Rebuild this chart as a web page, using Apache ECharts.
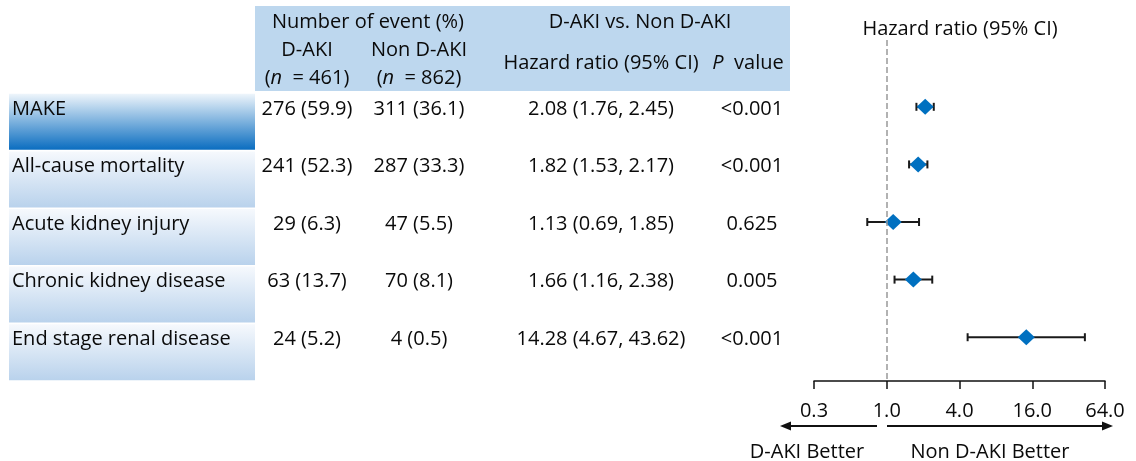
<!DOCTYPE html>
<html>
<head>
<meta charset="utf-8">
<script src="https://cdn.jsdelivr.net/npm/echarts@6/dist/echarts.min.js"></script>
<style>
  html, body { margin: 0; padding: 0; background: #fff; }
  #chart { width: 1136px; height: 461px; }
</style>
</head>
<body>
<div id="chart"></div>
<script>
// Outcomes of D-AKI vs. Non D-AKI patients
const outcomes = ['MAKE', 'All-cause mortality', 'Acute kidney injury', 'Chronic kidney disease', 'End stage renal disease'];
const dakiEvents = [276, 241, 29, 63, 24];
const dakiPct = [59.9, 52.3, 6.3, 13.7, 5.2];
const nonDakiEvents = [311, 287, 47, 70, 4];
const nonDakiPct = [36.1, 33.3, 5.5, 8.1, 0.5];
const hazardRatio = [2.08, 1.82, 1.13, 1.66, 14.28];
const ciLower = [1.76, 1.53, 0.69, 1.16, 4.67];
const ciUpper = [2.45, 2.17, 1.85, 2.38, 43.62];
const pValues = ['<0.001', '<0.001', '0.625', '0.005', '<0.001'];
const axisMin = 0.25, axisMax = 64;

// Layout
const FONT = 'Open Sans';
const FS = 20;
const TEXT_COLOR = '#0a0a0a';
const ROW_TEXT = 0.24;       // text line sits in the upper part of each row band
const TEXT_DY = 2;           // optical baseline correction for the font
const Y_MIN = -0.92;         // room above the first row for the reference line
const col = { labelL: 9, labelR: 255, label: 12, daki: 307, nonDaki: 419, hr: 601, p: 752 };

const fmtCount = (n, p) => n + ' (' + p.toFixed(1) + ')';
const fmtHR = i => hazardRatio[i].toFixed(2) + ' (' + ciLower[i].toFixed(2) + ', ' + ciUpper[i].toFixed(2) + ')';

const rows = outcomes.map((o, i) => [i]);

const chart = echarts.init(document.getElementById('chart'), null, { renderer: 'canvas' });

const txt = (x, y, text, align) => ({
  type: 'text', x, y: y + TEXT_DY,
  style: { text, font: FS + 'px ' + FONT, fill: TEXT_COLOR, align: align || 'center', verticalAlign: 'middle' }
});

const richTxt = (x, y, text) => ({
  type: 'text', x, y: y + TEXT_DY,
  style: {
    text, align: 'center', verticalAlign: 'middle', fill: TEXT_COLOR,
    font: FS + 'px ' + FONT,
    rich: { i: { fontFamily: FONT, fontSize: FS, fontStyle: 'italic', fill: TEXT_COLOR } }
  }
});

chart.setOption({
  animation: false,
  textStyle: { fontFamily: FONT },
  grid: [
    { left: 0, right: 0, top: 40, bottom: 80 },
    { left: 814, right: 31, top: 40, bottom: 80 }
  ],
  xAxis: [
    { gridIndex: 0, type: 'value', min: 0, max: 1136, show: false },
    {
      gridIndex: 1, type: 'log', logBase: 4, min: axisMin, max: axisMax, interval: 1,
      position: 'bottom',
      axisLine: { show: true, onZero: false, lineStyle: { color: '#111', width: 1.5 } },
      axisTick: { show: true, length: 8, lineStyle: { color: '#111', width: 1.5 } },
      splitLine: { show: false },
      axisLabel: {
        margin: 20, color: TEXT_COLOR, fontSize: FS, fontFamily: FONT,
        formatter: v => Number(v).toFixed(1)
      }
    }
  ],
  yAxis: [
    { gridIndex: 0, type: 'value', inverse: true, min: Y_MIN, max: outcomes.length, show: false },
    { gridIndex: 1, type: 'value', inverse: true, min: Y_MIN, max: outcomes.length, show: false }
  ],
  graphic: [
    { type: 'rect', shape: { x: 255, y: 6, width: 535, height: 85 }, style: { fill: '#BDD7EE' }, z: 0 },
    txt(368, 20, 'Number of event (%)'),
    txt(640, 20, 'D-AKI vs. Non D-AKI'),
    txt(307, 48, 'D-AKI'),
    txt(419, 48, 'Non D-AKI'),
    richTxt(307, 76, '({i|n}  = 461)'),
    richTxt(419, 76, '({i|n}  = 862)'),
    txt(601, 61, 'Hazard ratio (95% CI)'),
    richTxt(748, 61, '{i|P}  value'),
    txt(960, 27, 'Hazard ratio (95% CI)'),
    // direction arrows under the axis
    { type: 'line', shape: { x1: 877, y1: 426, x2: 790, y2: 426 }, style: { stroke: '#111', lineWidth: 2 } },
    { type: 'polygon', shape: { points: [[780, 426], [791, 421.5], [791, 430.5]] }, style: { fill: '#111' } },
    { type: 'line', shape: { x1: 887, y1: 426, x2: 1103, y2: 426 }, style: { stroke: '#111', lineWidth: 2 } },
    { type: 'polygon', shape: { points: [[1113, 426], [1102, 421.5], [1102, 430.5]] }, style: { fill: '#111' } },
    txt(807, 450, 'D-AKI Better'),
    txt(990, 450, 'Non D-AKI Better')
  ],
  series: [
    {
      // table: outcome cells and values
      type: 'custom', xAxisIndex: 0, yAxisIndex: 0, silent: true,
      data: rows,
      renderItem: (params, api) => {
        const i = api.value(0);
        const top = api.coord([0, i])[1];
        const bottom = api.coord([0, i + 1])[1];
        const ty = api.coord([0, i + ROW_TEXT])[1] + TEXT_DY;
        const first = i === 0;
        const fill = new echarts.graphic.LinearGradient(0, 0, 0, 1, first
          ? [{ offset: 0, color: '#EEF5FB' }, { offset: 1, color: '#0A6DC0' }]
          : [{ offset: 0, color: '#F6F9FD' }, { offset: 1, color: '#B9D2EC' }]);
        const t = (x, s, align) => ({
          type: 'text', x, y: ty,
          style: { text: s, font: FS + 'px ' + FONT, fill: TEXT_COLOR, align: align || 'center', verticalAlign: 'middle' }
        });
        return {
          type: 'group',
          children: [
            { type: 'rect', shape: { x: col.labelL, y: top + 0.8, width: col.labelR - col.labelL, height: bottom - top - 1.6 }, style: { fill } },
            t(col.label, outcomes[i], 'left'),
            t(col.daki, fmtCount(dakiEvents[i], dakiPct[i])),
            t(col.nonDaki, fmtCount(nonDakiEvents[i], nonDakiPct[i])),
            t(col.hr, fmtHR(i)),
            t(col.p, pValues[i])
          ]
        };
      }
    },
    {
      // 95% CI whiskers
      type: 'custom', xAxisIndex: 1, yAxisIndex: 1, silent: true, z: 3,
      data: outcomes.map((o, i) => [ciLower[i], ciUpper[i], i + ROW_TEXT]),
      renderItem: (params, api) => {
        const a = api.coord([api.value(0), api.value(2)]);
        const b = api.coord([api.value(1), api.value(2)]);
        const h = 4;
        const st = { stroke: '#1a1a1a', lineWidth: 2 };
        return {
          type: 'group',
          children: [
            { type: 'line', shape: { x1: a[0], y1: a[1], x2: b[0], y2: b[1] }, style: st },
            { type: 'line', shape: { x1: a[0], y1: a[1] - h, x2: a[0], y2: a[1] + h }, style: st },
            { type: 'line', shape: { x1: b[0], y1: b[1] - h, x2: b[0], y2: b[1] + h }, style: st }
          ]
        };
      }
    },
    {
      // hazard ratio points and the line of no effect
      type: 'scatter', xAxisIndex: 1, yAxisIndex: 1, silent: true, z: 4,
      symbol: 'diamond', symbolSize: [17, 16],
      itemStyle: { color: '#0070C0', opacity: 1 },
      data: outcomes.map((o, i) => [hazardRatio[i], i + ROW_TEXT]),
      markLine: {
        silent: true, symbol: 'none', animation: false,
        label: { show: false },
        lineStyle: { color: '#999', type: 'dashed', width: 1.5 },
        data: [{ xAxis: 1 }]
      }
    }
  ]
});
</script>
</body>
</html>
